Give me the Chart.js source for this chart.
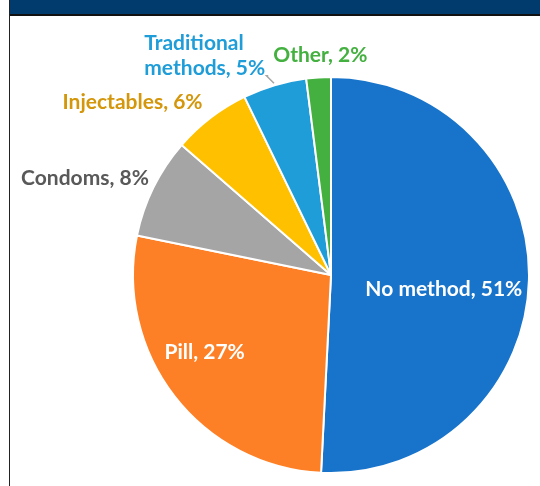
<!DOCTYPE html>
<html>
<head>
<meta charset="utf-8">
<script src="https://cdn.jsdelivr.net/npm/chart.js@4.4.1/dist/chart.umd.min.js"></script>
<style>
    html, body { margin: 0; padding: 0; background: #fff; }
    body { width: 540px; height: 486px; position: relative; overflow: hidden; }
    #edge { position: absolute; left: 9px; top: 0; width: 1px; height: 486px; background: #222; }
    #band { position: absolute; left: 10px; top: 0; width: 530px; height: 14px; background: #013B6E; border-bottom: 2px solid #111; }
    #wrap { position: absolute; left: 10px; top: 16px; width: 530px; height: 470px; }
</style>
</head>
<body>
<div id="edge"></div>
<div id="band"></div>
<div id="wrap"><canvas id="methodChart"></canvas></div>
<script>
// Contraceptive method share (%), labels show rounded values
const methods = ['No method', 'Pill', 'Condoms', 'Injectables', 'Traditional\nmethods', 'Other'];
const shares = [50.8, 27.4, 8.2, 6.4, 5.2, 2.0];
const sliceColors = ['#1874CB', '#FE8026', '#A5A5A5', '#FFC000', '#1F9DD9', '#43B03F'];
const labelColors = ['#FFFFFF', '#FFFFFF', '#595959', '#D4960A', '#1F9DD9', '#43B03F'];

// label placement: radius factor, nudge, alignment
const labelRadius = [0.57, 0.75, 1.2, 1.2, 1.2, 1.1];
const labelNudge = [[0, 11], [-9, -14], [-33, 8], [-54, 16], [-119, 8], [3, -2]];
const labelAlign = ['center', 'center', 'center', 'center', 'left', 'center'];
const leaderFor = 4;

const sliceLabels = {
    id: 'sliceLabels',
    afterDatasetsDraw(chart) {
        const ctx = chart.ctx;
        const meta = chart.getDatasetMeta(0);
        ctx.save();
        ctx.font = 'bold 21px Lato';
        ctx.textBaseline = 'middle';
        meta.data.forEach((arc, i) => {
            const p = arc.getProps(['x', 'y', 'startAngle', 'endAngle', 'outerRadius'], true);
            const mid = (p.startAngle + p.endAngle) / 2;
            const r = p.outerRadius * labelRadius[i];
            const ax = p.x + Math.cos(mid) * r + labelNudge[i][0];
            const ay = p.y + Math.sin(mid) * r + labelNudge[i][1];
            const lines = (methods[i] + ', ' + Math.round(shares[i]) + '%').split('\n');
            const lineH = 25;
            ctx.fillStyle = labelColors[i];
            ctx.textAlign = labelAlign[i];
            lines.forEach((line, k) => {
                ctx.fillText(line, ax, ay + (k - (lines.length - 1) / 2) * lineH);
            });

            if (i === leaderFor) {
                const last = lines[lines.length - 1];
                const lastY = ay + ((lines.length - 1) / 2) * lineH;
                const sx = ax + ctx.measureText(last).width + 3;
                const sy = lastY + 8;
                const ex = p.x + Math.cos(mid) * (p.outerRadius + 2);
                const ey = p.y + Math.sin(mid) * (p.outerRadius + 2);
                ctx.strokeStyle = '#A6A6A6';
                ctx.lineWidth = 1.5;
                ctx.beginPath();
                ctx.moveTo(sx, sy);
                ctx.lineTo(ex - (ey - sy), sy);
                ctx.lineTo(ex, ey);
                ctx.stroke();
            }
        });
        ctx.restore();
    }
};

new Chart(document.getElementById('methodChart'), {
    type: 'pie',
    data: {
        labels: methods,
        datasets: [{
            data: shares,
            backgroundColor: sliceColors,
            borderColor: '#FFFFFF',
            borderWidth: 2,
            hoverOffset: 0
        }]
    },
    options: {
        responsive: true,
        maintainAspectRatio: false,
        animation: false,
        layout: {
            padding: { left: 122, right: 10, top: 60, bottom: 12 }
        },
        plugins: {
            legend: { display: false },
            tooltip: { enabled: false }
        }
    },
    plugins: [sliceLabels]
});
</script>
</body>
</html>
